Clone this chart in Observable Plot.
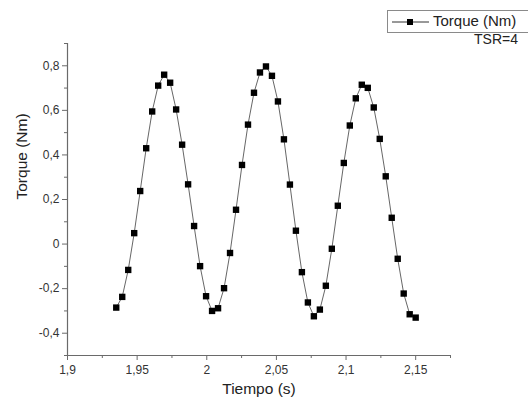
<!DOCTYPE html>
<html>
<head>
<meta charset="utf-8">
<script src="https://cdn.jsdelivr.net/npm/d3@7"></script>
<script src="https://cdn.jsdelivr.net/npm/@observablehq/plot@0.6"></script>
<style>
  body { margin: 0; background: #fff; font-family: "Liberation Sans", Arial, sans-serif; }
  #wrap { position: relative; width: 528px; height: 405px; overflow: hidden; }
  #legend { position: absolute; left: 387px; top: 10px; width: 150px; height: 23px; border: 1px solid #8a8a8a; box-sizing: border-box; background: #fff; }
  #legend svg { position: absolute; left: 3px; top: 4px; }
  #legend span { position: absolute; left: 45px; top: 1px; font-size: 15px; color: #222; white-space: nowrap; }
  #tsr { position: absolute; right: 10px; top: 31px; font-size: 14px; color: #222; }
</style>
</head>
<body>
<div id="wrap">
  <div id="chart"></div>
  <div id="legend">
    <svg width="40" height="14"><line x1="1" y1="7" x2="38" y2="7" stroke="#333" stroke-width="1"/><rect x="16" y="4" width="6" height="6" fill="#000"/></svg>
    <span>Torque (Nm)</span>
  </div>
  <div id="tsr">TSR=4</div>
</div>
<script>
const tiempo = [
  1.9350, 1.9393, 1.9436, 1.9479, 1.9522, 1.9565, 1.9608, 1.9651, 1.9694, 1.9737,
  1.9780, 1.9823, 1.9866, 1.9909, 1.9952, 1.9995, 2.0038, 2.0081, 2.0124, 2.0167,
  2.0210, 2.0253, 2.0296, 2.0339, 2.0382, 2.0425, 2.0468, 2.0511, 2.0554, 2.0597,
  2.0640, 2.0683, 2.0726, 2.0769, 2.0812, 2.0855, 2.0898, 2.0941, 2.0984, 2.1027,
  2.1070, 2.1113, 2.1156, 2.1199, 2.1242, 2.1285, 2.1328, 2.1371, 2.1414, 2.1457,
  2.1500
];
const torque = [
  -0.285, -0.237, -0.116, 0.049, 0.238, 0.430, 0.595, 0.711, 0.760, 0.724,
  0.604, 0.446, 0.268, 0.081, -0.099, -0.234, -0.300, -0.288, -0.198, -0.040,
  0.154, 0.355, 0.536, 0.679, 0.770, 0.797, 0.755, 0.640, 0.470, 0.267,
  0.060, -0.126, -0.262, -0.324, -0.294, -0.187, -0.021, 0.172, 0.364, 0.532,
  0.654, 0.715, 0.701, 0.613, 0.472, 0.304, 0.118, -0.066, -0.222, -0.315,
  -0.330
];
const xTicks = [1.9, 1.95, 2.0, 2.05, 2.1, 2.15];
const xMinor = [1.925, 1.975, 2.025, 2.075, 2.125, 2.175];
const yTicks = [-0.4, -0.2, 0, 0.2, 0.4, 0.6, 0.8];
const yMinor = [-0.5, -0.3, -0.1, 0.1, 0.3, 0.5, 0.7, 0.9];
const xLabel = "Tiempo (s)";
const yLabel = "Torque (Nm)";

const data = tiempo.map((t, i) => ({t, v: torque[i]}));
const fmt = d => String(+(+d).toFixed(2)).replace(".", ",");
const axisColor = "#6a6a6a";

const chart = Plot.plot({
  width: 528,
  height: 405,
  marginLeft: 67,
  marginRight: 78,
  marginTop: 43,
  marginBottom: 50,
  style: {fontFamily: "'Liberation Sans', Arial, sans-serif", fontSize: "12px", color: "#333", background: "transparent"},
  x: {domain: [1.9, 2.175]},
  y: {domain: [-0.5, 0.9]},
  marks: [
    Plot.axisX(xTicks, {tickSize: 5, tickPadding: 5, tickFormat: fmt, stroke: axisColor, label: null, fontSize: 12}),
    Plot.axisX(xMinor, {tickSize: 3, tickFormat: () => "", stroke: axisColor, label: null}),
    Plot.axisY(yTicks, {tickSize: 5, tickPadding: 3, tickFormat: fmt, stroke: axisColor, label: null, fontSize: 12}),
    Plot.axisY(yMinor, {tickSize: 3, tickFormat: () => "", stroke: axisColor, label: null}),
    Plot.ruleX([1.9], {stroke: axisColor, strokeWidth: 1.2}),
    Plot.ruleY([-0.5], {stroke: axisColor, strokeWidth: 1.2}),
    Plot.line(data, {x: "t", y: "v", stroke: "#555", strokeWidth: 0.9}),
    Plot.dot(data, {x: "t", y: "v", symbol: "square", fill: "#000", stroke: "none", r: 3.6}),
    Plot.text([xLabel], {frameAnchor: "bottom", dy: 38, fontSize: 15.5, fill: "#222"}),
    Plot.text([yLabel], {frameAnchor: "left", dx: -45, rotate: -90, fontSize: 15.5, fill: "#222"})
  ]
});
document.getElementById("chart").appendChild(chart);
</script>
</body>
</html>
